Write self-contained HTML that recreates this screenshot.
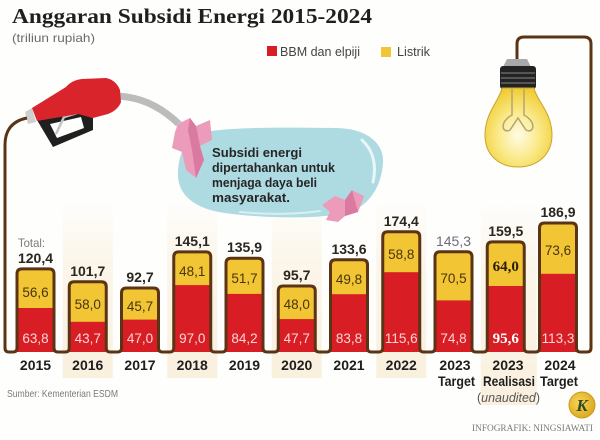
<!DOCTYPE html>
<html><head><meta charset="utf-8">
<style>
html,body{margin:0;padding:0;background:#fefefd;}
svg{display:block;}
text{font-family:"Liberation Sans",sans-serif;}
.tot{font-size:14px;font-weight:bold;fill:#2a2620;text-anchor:middle;}
.yv{font-size:13.5px;fill:#4a3410;text-anchor:middle;}
.rv{font-size:13.5px;fill:#fbd6d8;text-anchor:middle;}
.yr{font-size:14px;font-weight:bold;fill:#1e1e1e;text-anchor:middle;}
</style></head>
<body>
<svg width="600" height="440" viewBox="0 0 600 440" xmlns="http://www.w3.org/2000/svg">
<defs>
<linearGradient id="bg" x1="0" y1="0" x2="0" y2="1">
<stop offset="0" stop-color="#faf0dd" stop-opacity="0"/>
<stop offset="0.35" stop-color="#faf0dd" stop-opacity="0.6"/>
<stop offset="1" stop-color="#f9eeda" stop-opacity="0.9"/>
</linearGradient>
<radialGradient id="glass" cx="0.5" cy="0.6" r="0.6">
<stop offset="0" stop-color="#fffbe6"/>
<stop offset="0.5" stop-color="#faea8a"/>
<stop offset="1" stop-color="#f0cc34"/>
</radialGradient>
<radialGradient id="kg" cx="0.4" cy="0.4" r="0.7">
<stop offset="0" stop-color="#f7d55a"/>
<stop offset="1" stop-color="#d9a41a"/>
</radialGradient>
</defs>

<!-- title -->
<text x="12" y="23" font-weight="bold" font-size="21" fill="#1f1f1f" textLength="360" lengthAdjust="spacingAndGlyphs" style="font-family:'Liberation Serif',serif">Anggaran Subsidi Energi 2015-2024</text>
<text x="12" y="42" font-size="12" fill="#6a6a6a" textLength="83" lengthAdjust="spacingAndGlyphs">(triliun rupiah)</text>

<!-- legend -->
<rect x="267" y="46" width="10" height="10" fill="#d81e24"/>
<text x="280" y="56" font-size="12.5" fill="#444" textLength="80" lengthAdjust="spacingAndGlyphs">BBM dan elpiji</text>
<rect x="381" y="47" width="10" height="10" fill="#f1c534"/>
<text x="397" y="56" font-size="12.5" fill="#444" textLength="33" lengthAdjust="spacingAndGlyphs">Listrik</text>

<!-- beige columns -->
<rect x="62.75" y="200" width="50" height="178" fill="url(#bg)"/>
<rect x="167.25" y="200" width="50" height="178" fill="url(#bg)"/>
<rect x="271.75" y="200" width="50" height="178" fill="url(#bg)"/>
<rect x="376.25" y="200" width="50" height="178" fill="url(#bg)"/>
<rect x="480.75" y="200" width="56" height="205" fill="url(#bg)"/>

<!-- hose -->
<path d="M116,96 C145,97 165,110 182,127" stroke="#bcbcbc" stroke-width="7" fill="none" stroke-linecap="round"/>
<path d="M178,124 L184,130" stroke="#bfe6ea" stroke-width="6"/>

<!-- bubble -->
<path d="M205,132 C240,126 300,128 335,128 C365,128 384,142 383,162 C382,185 370,205 350,212 C320,220 260,218 225,213 C195,209 178,195 178,175 C178,155 185,136 205,132 Z" fill="#aedbe2"/>
<path d="M362,140 C373,150 377,165 373,182" stroke="#e8f6f8" stroke-width="3" fill="none" stroke-linecap="round"/>
<path d="M240,212 C270,215 300,214 320,211" stroke="#d8eff2" stroke-width="2" fill="none" stroke-linecap="round"/>

<!-- pink ribbons -->
<polygon points="178,124 190,118 196,126 210,120 212,140 200,146 204,160 196,178 186,170 182,152 172,148 175,132" fill="#ec9bbb"/>
<polygon points="190,118 196,126 200,146 204,160 196,178 192,150 188,130" fill="#d97aa1"/>
<polygon points="322,205 335,196 345,200 352,190 364,196 358,212 345,216 338,222 326,220 330,212" fill="#ec9bbb"/>
<polygon points="345,200 352,190 358,212 345,216" fill="#d97aa1"/>

<!-- bubble text -->
<g font-weight="bold" font-size="13" fill="#262626">
<text x="212" y="157" textLength="90" lengthAdjust="spacingAndGlyphs">Subsidi energi</text>
<text x="212" y="172" textLength="123" lengthAdjust="spacingAndGlyphs">dipertahankan untuk</text>
<text x="212" y="187" textLength="105" lengthAdjust="spacingAndGlyphs">menjaga daya beli</text>
<text x="212" y="202" textLength="78" lengthAdjust="spacingAndGlyphs">masyarakat.</text>
</g>

<!-- nozzle -->
<path d="M25,112 L32,108 L36,122 L28,124 Z" fill="#cfcfcf"/>
<path d="M37,120 L78,113 L93,118 L93,130 L53,147 Z M50,124 L57,138 L84,128 L81,117 Z" fill="#1f1f1f" fill-rule="evenodd"/>
<polyline points="56,134 64,117 77,113" stroke="#c4c4c4" stroke-width="2.5" fill="none"/>
<path d="M32,108 L66,87 Q72,80 82,79 L106,78 Q116,80 120,90 L121,102 Q118,110 108,114 L93,118 L78,114 L37,121 Z" fill="#d8242a"/>

<!-- bar fills -->
<g>
<rect x="17" y="268.9" width="37" height="44" rx="5" fill="#f1c534"/><rect x="17" y="308" width="37" height="44" fill="#d81e24"/>
<rect x="69.25" y="281.8" width="37" height="45" rx="5" fill="#f1c534"/><rect x="69.25" y="321.8" width="37" height="30.2" fill="#d81e24"/>
<rect x="121.5" y="288" width="37" height="36.6" rx="5" fill="#f1c534"/><rect x="121.5" y="319.6" width="37" height="32.4" fill="#d81e24"/>
<rect x="173.75" y="251.9" width="37" height="38.2" rx="5" fill="#f1c534"/><rect x="173.75" y="285.1" width="37" height="66.9" fill="#d81e24"/>
<rect x="226" y="258.2" width="37" height="40.7" rx="5" fill="#f1c534"/><rect x="226" y="293.9" width="37" height="58.1" fill="#d81e24"/>
<rect x="278.25" y="286" width="37" height="38.1" rx="5" fill="#f1c534"/><rect x="278.25" y="319.1" width="37" height="32.9" fill="#d81e24"/>
<rect x="330.5" y="259.8" width="37" height="39.4" rx="5" fill="#f1c534"/><rect x="330.5" y="294.2" width="37" height="57.8" fill="#d81e24"/>
<rect x="382.75" y="231.7" width="37" height="45.5" rx="5" fill="#f1c534"/><rect x="382.75" y="272.2" width="37" height="79.8" fill="#d81e24"/>
<rect x="435" y="251.7" width="37" height="53.7" rx="5" fill="#f1c534"/><rect x="435" y="300.4" width="37" height="51.6" fill="#d81e24"/>
<rect x="487.25" y="241.9" width="37" height="49.1" rx="5" fill="#f1c534"/><rect x="487.25" y="286" width="37" height="66" fill="#d81e24"/>
<rect x="539.5" y="223" width="37" height="55.8" rx="5" fill="#f1c534"/><rect x="539.5" y="273.8" width="37" height="78.2" fill="#d81e24"/>
</g>

<!-- outline / wire -->
<path d="M27,118 C12,121 5,130 5,145 L5,348 Q5,352 9,352 L13,352 Q17,352 17,348 L17,273.9 Q17,268.9 22,268.9 L49,268.9 Q54,268.9 54,273.9 L54,348 Q54,352 58,352 L65.25,352 Q69.25,352 69.25,348 L69.25,286.8 Q69.25,281.8 74.25,281.8 L101.25,281.8 Q106.25,281.8 106.25,286.8 L106.25,348 Q106.25,352 110.25,352 L117.5,352 Q121.5,352 121.5,348 L121.5,293 Q121.5,288 126.5,288 L153.5,288 Q158.5,288 158.5,293 L158.5,348 Q158.5,352 162.5,352 L169.75,352 Q173.75,352 173.75,348 L173.75,256.9 Q173.75,251.9 178.75,251.9 L205.75,251.9 Q210.75,251.9 210.75,256.9 L210.75,348 Q210.75,352 214.75,352 L222,352 Q226,352 226,348 L226,263.2 Q226,258.2 231,258.2 L258,258.2 Q263,258.2 263,263.2 L263,348 Q263,352 267,352 L274.25,352 Q278.25,352 278.25,348 L278.25,291 Q278.25,286 283.25,286 L310.25,286 Q315.25,286 315.25,291 L315.25,348 Q315.25,352 319.25,352 L326.5,352 Q330.5,352 330.5,348 L330.5,264.8 Q330.5,259.8 335.5,259.8 L362.5,259.8 Q367.5,259.8 367.5,264.8 L367.5,348 Q367.5,352 371.5,352 L378.75,352 Q382.75,352 382.75,348 L382.75,236.7 Q382.75,231.7 387.75,231.7 L414.75,231.7 Q419.75,231.7 419.75,236.7 L419.75,348 Q419.75,352 423.75,352 L431,352 Q435,352 435,348 L435,256.7 Q435,251.7 440,251.7 L467,251.7 Q472,251.7 472,256.7 L472,348 Q472,352 476,352 L483.25,352 Q487.25,352 487.25,348 L487.25,246.9 Q487.25,241.9 492.25,241.9 L519.25,241.9 Q524.25,241.9 524.25,246.9 L524.25,348 Q524.25,352 528.25,352 L535.5,352 Q539.5,352 539.5,348 L539.5,228 Q539.5,223 544.5,223 L571.5,223 Q576.5,223 576.5,228 L576.5,348 Q576.5,352 580.5,352 L587,352 Q591,352 591,348 L591,44 Q591,37 584,37 L524,37 Q517,37 517,44 L517,60" stroke="#5a3414" stroke-width="3" fill="none" stroke-linejoin="round"/>

<!-- bulb -->
<path d="M507,59 L527,59 L531,67 L503,67 Z" fill="#a9a9a9"/>
<rect x="500" y="66" width="36" height="23" rx="3" fill="#232323"/>
<rect x="501" y="72" width="34" height="2" fill="#555"/>
<rect x="501" y="77" width="34" height="2" fill="#555"/>
<rect x="501" y="82" width="34" height="2" fill="#555"/>
<path d="M502,88 L534,88 C536,100 552,112 552,135 C552,155 537,167 518,167 C499,167 485,155 485,135 C485,112 500,100 502,88 Z" fill="url(#glass)" stroke="#c9a42c" stroke-width="1"/>
<path d="M512,89 L512,115 C499,122 502,134 510,130 L518,118 L526,130 C534,134 537,122 524,115 L524,89" stroke="#b4a474" stroke-width="1.5" fill="none"/>

<!-- Total label -->
<text x="18" y="247" font-size="12" fill="#7a7a7a" textLength="27" lengthAdjust="spacingAndGlyphs">Total:</text>

<!-- totals -->
<text class="tot" x="35.5" y="263">120,4</text>
<text class="tot" x="87.75" y="276">101,7</text>
<text class="tot" x="140" y="282">92,7</text>
<text class="tot" x="192.25" y="246">145,1</text>
<text class="tot" x="244.5" y="252">135,9</text>
<text class="tot" x="296.75" y="280">95,7</text>
<text class="tot" x="349" y="254">133,6</text>
<text class="tot" x="401.25" y="226">174,4</text>
<text class="tot" x="453.5" y="246" style="fill:#6d6d7d;font-weight:normal">145,3</text>
<text class="tot" x="505.75" y="236">159,5</text>
<text class="tot" x="558" y="217">186,9</text>

<!-- yellow values -->
<text class="yv" x="35.5" y="297">56,6</text>
<text class="yv" x="87.75" y="309">58,0</text>
<text class="yv" x="140" y="311">45,7</text>
<text class="yv" x="192.25" y="276">48,1</text>
<text class="yv" x="244.5" y="283">51,7</text>
<text class="yv" x="296.75" y="309">48,0</text>
<text class="yv" x="349" y="284">49,8</text>
<text class="yv" x="401.25" y="259">58,8</text>
<text class="yv" x="453.5" y="283">70,5</text>
<text class="yv" x="505.75" y="271" style="font-weight:bold;font-size:15px;fill:#2a1e08;font-family:'Liberation Serif',serif">64,0</text>
<text class="yv" x="558" y="255">73,6</text>

<!-- red values -->
<text class="rv" x="35.5" y="343">63,8</text>
<text class="rv" x="87.75" y="343">43,7</text>
<text class="rv" x="140" y="343">47,0</text>
<text class="rv" x="192.25" y="343">97,0</text>
<text class="rv" x="244.5" y="343">84,2</text>
<text class="rv" x="296.75" y="343">47,7</text>
<text class="rv" x="349" y="343">83,8</text>
<text class="rv" x="401.25" y="343">115,6</text>
<text class="rv" x="453.5" y="343">74,8</text>
<text class="rv" x="505.75" y="343" style="font-weight:bold;font-size:15px;fill:#ffffff;font-family:'Liberation Serif',serif">95,6</text>
<text class="rv" x="558" y="343">113,3</text>

<!-- year labels -->
<text class="yr" x="35.5" y="370">2015</text>
<text class="yr" x="87.75" y="370">2016</text>
<text class="yr" x="140" y="370">2017</text>
<text class="yr" x="192.25" y="370">2018</text>
<text class="yr" x="244.5" y="370">2019</text>
<text class="yr" x="296.75" y="370">2020</text>
<text class="yr" x="349" y="370">2021</text>
<text class="yr" x="401.25" y="370">2022</text>
<text class="yr" x="455" y="370">2023</text>
<text class="yr" x="508" y="370">2023</text>
<text class="yr" x="560" y="370">2024</text>
<text x="438" y="386" font-size="14" font-weight="bold" fill="#1e1e1e" textLength="37" lengthAdjust="spacingAndGlyphs">Target</text>
<text x="483" y="386" font-size="14" font-weight="bold" fill="#1e1e1e" textLength="52" lengthAdjust="spacingAndGlyphs">Realisasi</text>
<text x="540" y="386" font-size="14" font-weight="bold" fill="#1e1e1e" textLength="38" lengthAdjust="spacingAndGlyphs">Target</text>
<text x="477" y="402" font-size="13" fill="#555" textLength="63" lengthAdjust="spacingAndGlyphs">(<tspan font-style="italic">unaudited</tspan>)</text>

<!-- footer -->
<text x="7" y="397" font-size="10.5" fill="#7a7a7a" textLength="111" lengthAdjust="spacingAndGlyphs">Sumber: Kementerian ESDM</text>
<circle cx="582" cy="405" r="13" fill="url(#kg)" stroke="#c99a18" stroke-width="1"/>
<text x="582" y="411" style="font-family:'Liberation Serif',serif" font-style="italic" font-weight="bold" font-size="17" fill="#2f4a1c" text-anchor="middle">K</text>
<text x="472" y="431" style="font-family:'Liberation Serif',serif" font-size="9.5" fill="#7a7a7a" textLength="121" lengthAdjust="spacingAndGlyphs">INFOGRAFIK: NINGSIAWATI</text>
</svg>
</body></html>
